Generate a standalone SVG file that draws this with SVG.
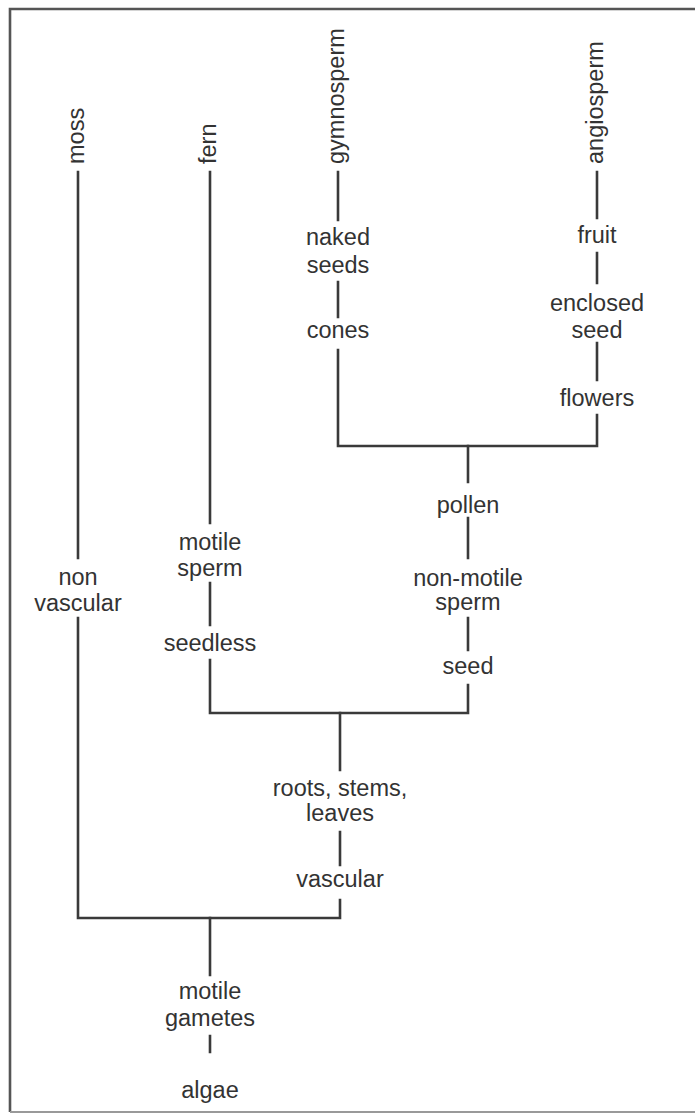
<svg xmlns="http://www.w3.org/2000/svg" width="695" height="1118" viewBox="0 0 695 1118">
<style>
text{font-family:"Liberation Sans",Arial,sans-serif;font-size:23.5px;fill:#333;text-anchor:middle}
.rot{text-anchor:start}
.ln{stroke:#3a3a3a;stroke-width:2.6;fill:none;stroke-linecap:square}
</style>
<rect x="0" y="0" width="695" height="1118" fill="#fff"/>
<g id="frame">
<path d="M720,9 H10 V1112" fill="none" stroke="#555" stroke-width="2.6"/>
<path d="M10,1112 H720" fill="none" stroke="#999" stroke-width="2"/>
</g>
<g id="connectors">
<path class="ln" d="M78,172 V558 M78,618 V918 H340 V900 M340,865 V832 M340,770 V713"/>
<path class="ln" d="M210,172 V523 M210,583 V625 M210,660 V713 H468 V685 M468,650 V618 M468,558 V518 M468,482 V446"/>
<path class="ln" d="M338,172 V220 M338,282 V317 M338,350 V446 H597 V415 M597,380 V343 M597,283 V253 M597,218 V172"/>
<path class="ln" d="M210,918 V975 M210,1036 V1052"/>
</g>
<g id="moss"><text class="rot" transform="translate(84,164) rotate(-90)">moss</text></g>
<g id="fern"><text class="rot" transform="translate(216,164) rotate(-90)">fern</text></g>
<g id="gymnosperm"><text class="rot" transform="translate(344,164) rotate(-90)">gymnosperm</text></g>
<g id="angiosperm"><text class="rot" transform="translate(603,164) rotate(-90)">angiosperm</text></g>
<g id="naked-seeds"><text x="338" y="245">naked</text><text x="338" y="273">seeds</text></g>
<g id="cones"><text x="338" y="338">cones</text></g>
<g id="fruit"><text x="597" y="243">fruit</text></g>
<g id="enclosed-seed"><text x="597" y="311">enclosed</text><text x="597" y="338">seed</text></g>
<g id="flowers"><text x="597" y="406">flowers</text></g>
<g id="pollen"><text x="468" y="513">pollen</text></g>
<g id="non-motile-sperm"><text x="468" y="586">non-motile</text><text x="468" y="610">sperm</text></g>
<g id="seed"><text x="468" y="674">seed</text></g>
<g id="motile-sperm"><text x="210" y="550">motile</text><text x="210" y="576">sperm</text></g>
<g id="seedless"><text x="210" y="651">seedless</text></g>
<g id="non-vascular"><text x="78" y="585">non</text><text x="78" y="611">vascular</text></g>
<g id="roots-stems-leaves"><text x="340" y="796">roots, stems,</text><text x="340" y="821">leaves</text></g>
<g id="vascular"><text x="340" y="887">vascular</text></g>
<g id="motile-gametes"><text x="210" y="999">motile</text><text x="210" y="1026">gametes</text></g>
<g id="algae"><text x="210" y="1098">algae</text></g>
</svg>
